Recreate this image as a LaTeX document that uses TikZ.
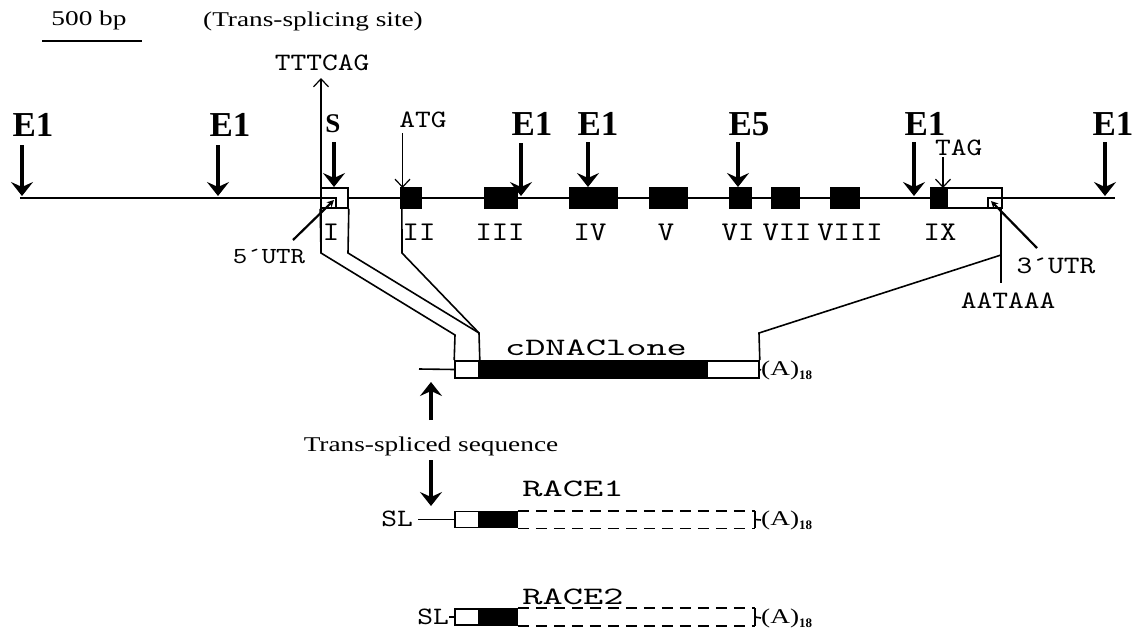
\documentclass[tikz,border=0pt]{standalone}
\usepackage{fontspec}
\setmainfont{Liberation Serif}
\newfontfamily\serw[FakeStretch=1.3]{Liberation Serif}
\newfontfamily\monoA[FakeStretch=1.15]{lmmono10-regular.otf}
\newfontfamily\monoB[FakeStretch=1.2]{lmmono10-regular.otf}
\newfontfamily\monoC[FakeStretch=1.54]{lmmono10-regular.otf}
\usetikzlibrary{arrows.meta}

\tikzset{
  gline/.style={line width=1.6pt},
  site/.style={line width=3.5pt, -{Stealth[length=14pt,width=22pt,inset=5pt]}},
  pointer/.style={line width=1.2pt, -{Straight Barb[length=8pt,width=15pt]}},
  utrptr/.style={line width=2.2pt, -{Stealth[length=7pt,width=7pt]}},
  enz/.style={font=\fontsize{35}{40}\selectfont\bfseries, inner sep=0pt, anchor=base},
  sbold/.style={font=\fontsize{27}{30}\selectfont\bfseries, inner sep=0pt, anchor=base},
  txt/.style={font=\serw\fontsize{21}{24}\selectfont, inner sep=0pt, anchor=base},
  lab/.style={font=\monoB\fontsize{25}{28}\selectfont, inner sep=0pt, anchor=base},
  roman/.style={font=\monoA\fontsize{27}{30}\selectfont, inner sep=0pt, anchor=base},
  big/.style={font=\monoC\fontsize{25}{28}\selectfont, inner sep=0pt, anchor=base},
  exon/.style={draw, fill=black, line width=1.2pt, rectangle, minimum height=20pt, inner sep=0pt},
  utr/.style={draw, fill=white, line width=1.6pt, rectangle, minimum height=20pt, inner sep=0pt},
  cbox/.style={draw, line width=1.6pt, rectangle, minimum height=17pt, inner sep=0pt},
  rbox/.style={draw, line width=1.6pt, rectangle, minimum height=16pt, inner sep=0pt},
  dashbox/.style={line width=1.6pt, dash pattern=on 11pt off 7pt},
  polya/.style={inner sep=0pt, anchor=west},
}
\newcommand{\polyA}{{\serw\fontsize{21}{24}\selectfont(A)}\raisebox{-4pt}{\fontsize{13}{14}\selectfont\bfseries 18}}

\begin{document}
\begin{tikzpicture}[x=1pt,y=-1pt]
\useasboundingbox (0,0) rectangle (1136,635);

% ---- scale bar and heading
\node[txt] (bp) at (89,25) {500 bp};
\draw[gline] (42,41) -- (142,41);
\node[txt] (tss) at (313,26) {(Trans-splicing site)};

% ---- genomic line
\draw[gline] (20,198) coordinate (gl) -- (1115,198) coordinate (gr);

% ---- exons
\node[utr, minimum width=27pt] (utr5) at (334.5,198) {};
\draw[gline] (321,198) -| (336,208);
\node[exon, minimum width=20pt] (ex2) at (411,198) {};
\node[exon, minimum width=32pt] (ex3) at (501,198) {};
\node[exon, minimum width=47pt] (ex4) at (593.5,198) {};
\node[exon, minimum width=37pt] (ex5) at (668.5,198) {};
\node[exon, minimum width=21pt] (ex6) at (740.5,198) {};
\node[exon, minimum width=27pt] (ex7) at (785.5,198) {};
\node[exon, minimum width=28pt] (ex8) at (845,198) {};
\node[utr, minimum width=55pt] (utr3) at (974.5,198) {};
\node[exon, minimum width=16pt] (ex9) at (939,198) {};
\draw[gline] (988,208) |- (1002,198);

% ---- exon numbers
\node[roman] (nI) at (331,240) {I};
\node[roman] (nII) at (419,240) {II};
\node[roman] (nIII) at (500,240) {III};
\node[roman] (nIV) at (590,240) {IV};
\node[roman] (nV) at (666,240) {V};
\node[roman] (nVI) at (738,240) {VI};
\node[roman] (nVII) at (787,240) {VII};
\node[roman] (nVIII) at (850,240) {VIII};
\node[roman] (nIX) at (940,240) {IX};

% ---- restriction sites
\node[enz] (ea) at (33,136) {E1};
\node[enz] (eb) at (230,136) {E1};
\node[sbold] (es) at (333,132) {S};
\node[enz] (ec) at (532,135) {E1};
\node[enz] (ed) at (598,135) {E1};
\node[enz] (e5) at (749,135) {E5};
\node[enz] (ee) at (925,135) {E1};
\node[enz] (ef) at (1113,135) {E1};
\coordinate (ra0) at (22,145);   \coordinate (ra1) at (22,196);
\coordinate (rb0) at (218,145);  \coordinate (rb1) at (218,196);
\coordinate (rs0) at (334,142);  \coordinate (rs1) at (334,187);
\coordinate (rc0) at (521,143);  \coordinate (rc1) at (521,196);
\coordinate (rd0) at (588,142);  \coordinate (rd1) at (588,187);
\coordinate (r50) at (738,142);  \coordinate (r51) at (738,187);
\coordinate (re0) at (914,142);  \coordinate (re1) at (914,196);
\coordinate (rf0) at (1105,142); \coordinate (rf1) at (1105,196);
\foreach \a/\b in {ra0/ra1, rb0/rb1, rs0/rs1, rc0/rc1, rd0/rd1, r50/r51, re0/re1, rf0/rf1}
  \draw[site] (\a) -- (\b);

% ---- trans-splicing site, start and stop codons
\node[lab] (tttcag) at (322,70) {TTTCAG};
\coordinate (i1L) at (321,253);
\coordinate (tsTip) at (321,78);
\draw[pointer] (i1L) -- (tsTip);
\node[lab] (atg) at (423,127) {ATG};
\coordinate (atg0) at (402.5,133);
\coordinate (atg1) at (402.5,188);
\draw[pointer] (atg0) -- (atg1);
\node[lab, anchor=base west] (tag) at (935,155) {TAG};
\coordinate (tag0) at (943,157);
\coordinate (tag1) at (943,188);
\draw[pointer] (tag0) -- (tag1);

% ---- UTR labels
\node[lab, font=\monoB\fontsize{23}{26}\selectfont] (u5) at (269,263) {5´UTR};
\coordinate (u5a) at (293,240);
\coordinate (u5b) at (334,200);
\draw[utrptr] (u5a) -- (u5b);
\node[lab] (u3) at (1056,273) {3´UTR};
\coordinate (u3a) at (1037,248);
\coordinate (u3b) at (991,201);
\draw[utrptr] (u3a) -- (u3b);
\node[lab] (aataaa) at (1008,308) {AATAAA};

% ---- cDNA clone
\node[cbox, fill=white, minimum width=24pt] (c5) at (467,369.5) {};
\node[cbox, fill=black, minimum width=228pt] (cc) at (593,369.5) {};
\node[cbox, fill=white, minimum width=52pt] (c3) at (733,369.5) {};
\node[big] (clone) at (596,355) {cDNAClone};
\coordinate (sl0) at (419,369);
\draw[gline] (sl0) -- (c5.west);
\node[polya] (pa0) at (761,370) {\polyA};
\draw[gline] (c3.east) -- (pa0.west);

% ---- exon-to-clone correspondence
\coordinate (i1R) at (348,253);
\coordinate (i2) at (402,253);
\coordinate (cL) at (455,335);
\coordinate (cR) at (479,333);
\coordinate (c3t) at (759,333);
\coordinate (a3) at (1001,255);
\coordinate (a3b) at (1001,283);
\draw[gline] (utr5.south west) -- (i1L) -- (cL) -- (c5.north west);
\draw[gline] (utr5.south east) -- (i1R) -- (cR) -- (c5.north east);
\draw[gline] (ex2.south west) ++(1.5,0) coordinate (ex2b) -- (i2) -- (cR);
\draw[gline] (1001,208) coordinate (u3s) -- (a3b);
\draw[gline] (a3) -- (c3t) -- (c3.north east);

% ---- trans-spliced sequence
\node[txt] (tsq) at (431,451) {Trans-spliced sequence};
\coordinate (tq0) at (431,420);
\coordinate (tq1) at (431,382);
\coordinate (tq2) at (431,460);
\coordinate (tq3) at (431,506);
\draw[site] (tq0) -- (tq1);
\draw[site] (tq2) -- (tq3);

% ---- RACE 1
\node[big] (race1) at (573,496) {RACE1};
\node[lab, anchor=base east] (sl1) at (413,526) {SL};
\node[rbox, fill=white, minimum width=24pt] (r1a) at (467,519.5) {};
\node[rbox, fill=black, minimum width=38pt] (r1b) at (498,519.5) {};
\coordinate (r1s) at (418,519.5);
\draw[gline] (r1s) -- (r1a.west);
\coordinate (r1e) at (755,519.5);
\draw[dashbox] (r1b.north east) -- (r1b.north east -| r1e);
\draw[dashbox] (r1b.south east) -- (r1b.south east -| r1e);
\draw[gline] (r1b.north east -| r1e) -- (r1b.south east -| r1e);
\node[polya] (pa1) at (761,520) {\polyA};
\draw[gline] (r1e) -- (pa1.west);

% ---- RACE 2
\node[big] (race2) at (573,604) {RACE2};
\node[lab, anchor=base east] (sl2) at (449,624) {SL};
\node[rbox, fill=white, minimum width=24pt] (r2a) at (467,617) {};
\node[rbox, fill=black, minimum width=38pt] (r2b) at (498,617) {};
\draw[gline] (sl2.east |- r2a.west) -- (r2a.west);
\coordinate (r2e) at (755,617);
\draw[dashbox] (r2b.north east) -- (r2b.north east -| r2e);
\draw[dashbox] (r2b.south east) -- (r2b.south east -| r2e);
\draw[gline] (r2b.north east -| r2e) -- (r2b.south east -| r2e);
\node[polya] (pa2) at (761,618) {\polyA};
\draw[gline] (r2e) -- (pa2.west);
\end{tikzpicture}
\end{document}
